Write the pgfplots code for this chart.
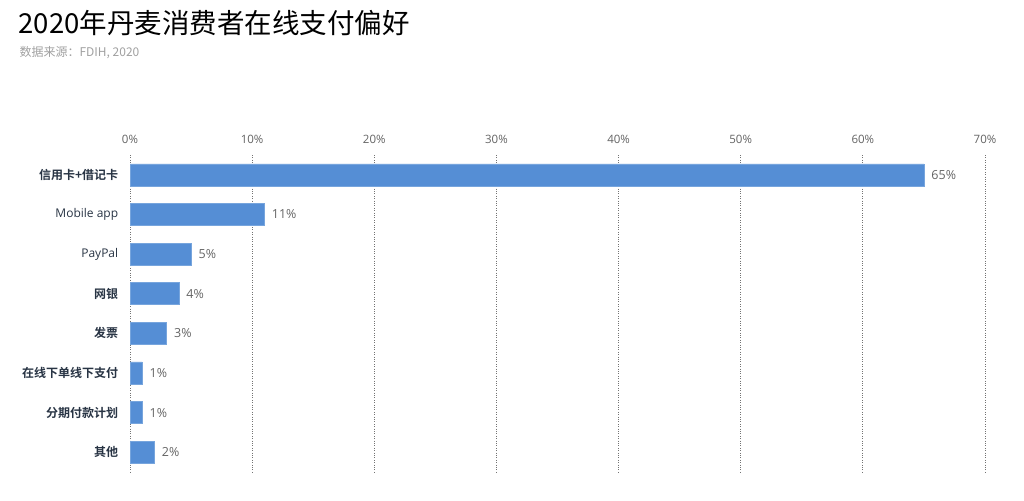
\documentclass[border=0pt]{standalone}
\usepackage{pgfplots}
\pgfplotsset{compat=1.18}
\usepackage{fontspec}
\setmainfont{Open Sans}
\newfontfamily\cjk{Noto Sans CJK SC}
\newfontfamily\cjkb[BoldFont={Noto Sans CJK SC Bold}]{Noto Sans CJK SC}
\definecolor{barblue}{RGB}{85,142,213}
\definecolor{ticktext}{RGB}{100,100,100}
\definecolor{cattext}{RGB}{40,52,68}
\definecolor{subgray}{RGB}{160,160,160}
\begin{document}
\begin{tikzpicture}[x=1pt,y=1pt]
\path[use as bounding box] (0,0) rectangle (1024,500);
\node[anchor=west,font=\cjk\fontsize{27.5}{30}\selectfont] at (15,477) {2020年丹麦消费者在线支付偏好};
\node[anchor=west,font=\cjk\fontsize{12}{14}\selectfont,text=subgray] at (16,447) {数据来源：FDIH, 2020};
\begin{axis}[
at={(130pt,28pt)}, anchor=south west,
width=855pt, height=317pt,
scale only axis,
xbar, bar width=22pt,
xmin=0, xmax=70,
ymin=-0.5, ymax=7.5,
y dir=reverse,
/pgf/number format/assume math mode=true,
xtick={0,10,...,70},
xticklabel={\pgfmathprintnumber{\tick}\%},
xticklabel pos=upper,
xticklabel style={font=\fontsize{11.5}{13}\selectfont, text=ticktext, yshift=8pt},
ytick={0,...,7},
yticklabels={{\cjkb\bfseries 信用卡+借记卡},{Mobile app},{PayPal},{\cjkb\bfseries 网银},{\cjkb\bfseries 发票},{\cjkb\bfseries 在线下单线下支付},{\cjkb\bfseries 分期付款计划},{\cjkb\bfseries 其他}},
yticklabel style={font=\fontsize{12}{14}\selectfont, text=cattext, xshift=-4pt},
xmajorgrids,
major grid style={dotted, black!55, line width=0.8pt},
axis line style={draw=none},
major tick style={draw=none},
nodes near coords={\pgfmathprintnumber{\pgfplotspointmeta}\%},
point meta=x,
nodes near coords style={font=\fontsize{12.5}{14}\selectfont, text=ticktext, anchor=west, xshift=4pt},
]
\addplot[fill=barblue, draw=barblue!80!white] coordinates {
(65,0) (11,1) (5,2) (4,3) (3,4) (1,5) (1,6) (2,7)
};
\end{axis}
\end{tikzpicture}
\end{document}
